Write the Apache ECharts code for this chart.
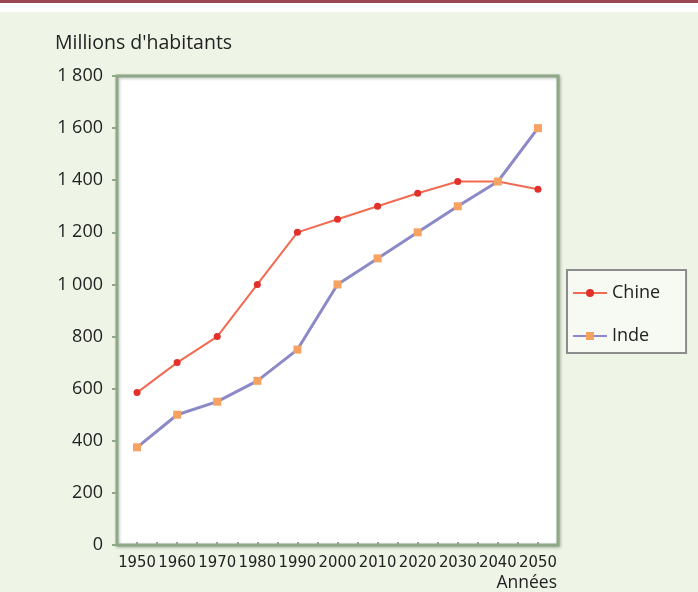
<!DOCTYPE html>
<html>
<head>
<meta charset="utf-8">
<script src="https://cdn.jsdelivr.net/npm/echarts@6/dist/echarts.min.js"></script>
<style>
  html, body { margin: 0; padding: 0; background: #eef4e6; }
  #chart { width: 698px; height: 592px; }
</style>
</head>
<body>
<div id="chart"></div>
<script>
// Population (millions d'habitants), Chine et Inde, 1950-2050
const years = ['1950', '1960', '1970', '1980', '1990', '2000', '2010', '2020', '2030', '2040', '2050'];
const chine = [585, 700, 800, 1000, 1200, 1250, 1300, 1350, 1395, 1395, 1365];
const inde  = [375, 500, 550, 630, 750, 1000, 1100, 1200, 1300, 1395, 1600];
const yTicks = { min: 0, max: 1800, interval: 200 };

const labelFont = 'Open Sans, Noto Sans, sans-serif';
const narrowFont = '"DejaVu Sans Condensed", "Liberation Sans Narrow", sans-serif';
const frame = '#8ea888';

const chart = echarts.init(document.getElementById('chart'), null, { renderer: 'canvas' });

// thousands with a space, as in "1 800"
const fmt = v => String(v).replace(/\B(?=(\d{3})+(?!\d))/g, ' ');

chart.setOption({
  backgroundColor: '#eef4e6',
  animation: false,
  graphic: [
    { type: 'rect', left: 0, top: 0, shape: { width: 698, height: 12 }, style: { fill: '#ffffff' }, z: -1 },
    { type: 'rect', left: 0, top: 0, shape: { width: 698, height: 3 }, style: { fill: '#9b4655' }, z: -1 },
    { type: 'text', left: 55, top: 33, style: { text: "Millions d'habitants", fill: '#222', font: '19.5px ' + labelFont } },
    { type: 'text', right: 141, top: 574, style: { text: 'Années', fill: '#222', font: '17.5px ' + labelFont } }
  ],
  grid: {
    left: 117, right: 140, top: 76, bottom: 47,
    show: true,
    backgroundColor: '#ffffff',
    borderColor: frame,
    borderWidth: 3,
    shadowColor: 'rgba(60,80,60,0.35)',
    shadowBlur: 3,
    shadowOffsetX: 1,
    shadowOffsetY: 1
  },
  legend: {
    orient: 'vertical',
    left: 567, top: 270,
    padding: [14, 26, 8, 5],
    itemGap: 25,
    itemWidth: 34,
    itemHeight: 10,
    backgroundColor: '#f7faf2',
    borderColor: '#8c8c8c',
    borderWidth: 2,
    textStyle: { fontSize: 18, fontFamily: labelFont, color: '#222' },
    data: ['Chine', 'Inde']
  },
  xAxis: [
    {
      type: 'category',
      data: years,
      boundaryGap: true,
      axisLine: { show: false },
      axisTick: { show: true, inside: true, length: 3, alignWithLabel: true, lineStyle: { color: frame, width: 2 } },
      axisLabel: { interval: 0, margin: 9, fontSize: 16.5, fontFamily: narrowFont, color: '#222' }
    },
    {
      type: 'category',
      data: years,
      position: 'bottom',
      boundaryGap: true,
      axisLine: { show: false },
      axisTick: { show: true, inside: true, length: 3, lineStyle: { color: frame, width: 2 } },
      axisLabel: { show: false }
    }
  ],
  yAxis: {
    type: 'value',
    min: yTicks.min, max: yTicks.max, interval: yTicks.interval,
    axisLine: { show: false },
    axisTick: { show: true, length: 5, lineStyle: { color: frame, width: 2 } },
    splitLine: { show: false },
    axisLabel: { margin: 14, fontSize: 18, fontFamily: labelFont, color: '#222', formatter: fmt }
  },
  series: [
    {
      name: 'Chine',
      type: 'line',
      data: chine,
      symbol: 'circle',
      symbolSize: 7,
      lineStyle: { color: '#f26a52', width: 2 },
      itemStyle: { color: '#e2312b' }
    },
    {
      name: 'Inde',
      type: 'line',
      data: inde,
      symbol: 'rect',
      symbolSize: 8,
      lineStyle: { color: '#8c89c9', width: 3 },
      itemStyle: { color: '#f5a263' }
    }
  ]
});
</script>
</body>
</html>
